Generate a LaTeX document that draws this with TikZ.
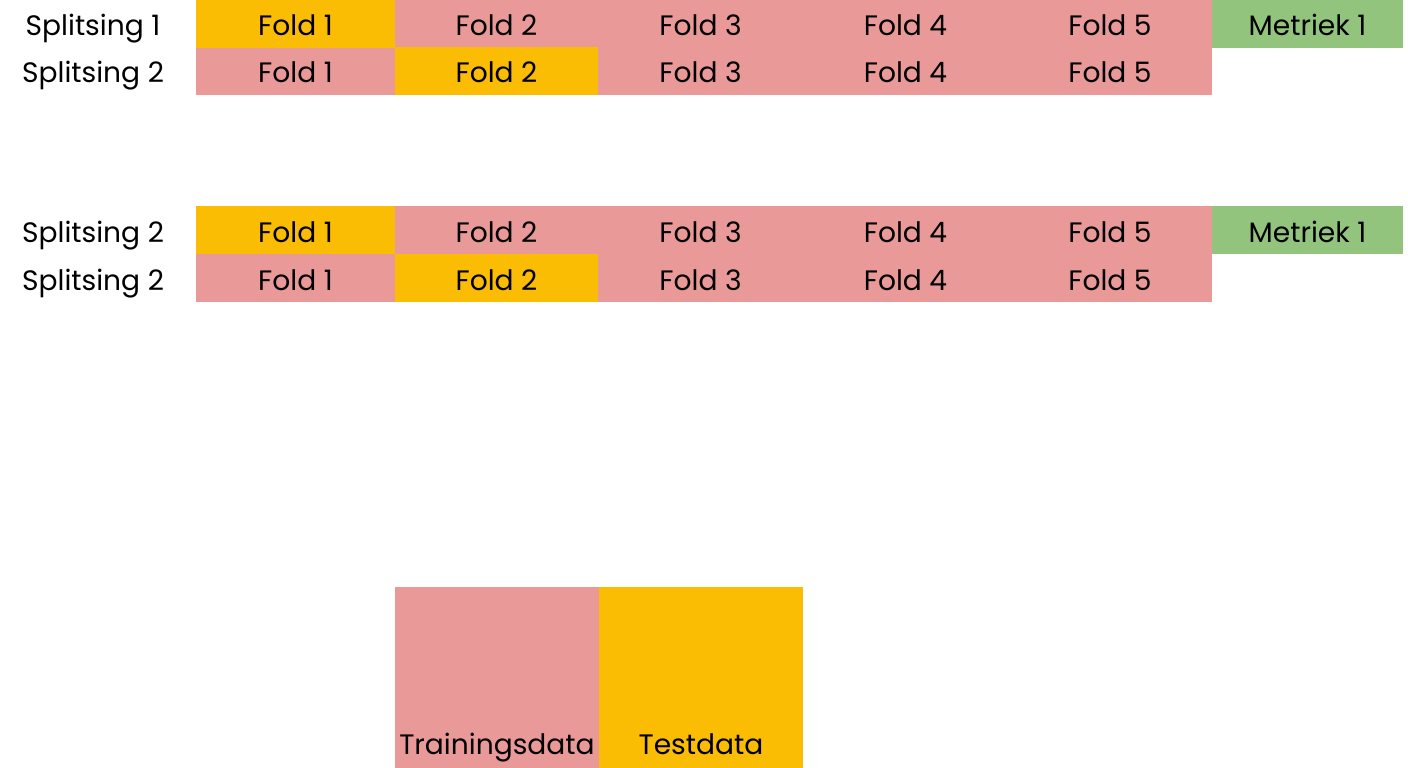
\documentclass[tikz,border=0pt]{standalone}
\usepackage{fontspec}
\setmainfont{Poppins}
\usepackage{tikz}
\usetikzlibrary{positioning}
\definecolor{foldpink}{HTML}{EA9999}
\definecolor{foldyellow}{HTML}{FBBC04}
\definecolor{metricgreen}{HTML}{93C47D}

\tikzset{
  txt/.style={inner sep=0pt, text height=0.7em, text depth=0pt,
    font=\fontsize{8}{9}\selectfont},
  cell/.style={txt, minimum height=0.48cm},
  train/.style={cell, fill=foldpink},
  test/.style={cell, fill=foldyellow},
  metric/.style={cell, fill=metricgreen, minimum width=1.91cm},
}

\begin{document}
\begin{tikzpicture}
    \useasboundingbox (0,0) rectangle (14.08,-7.68);

    % Row labels
    \node[txt] (lab1) at (0.93,-0.235) {Splitsing 1};
    \node[txt] (lab2) at (0.93,-0.705) {Splitsing 2};
    \node[txt] (lab3) at (0.93,-2.30) {Splitsing 2};
    \node[txt] (lab4) at (0.93,-2.78) {Splitsing 2};

    % Folds: first block
    \foreach \i/\x/\w in {1/2.955/1.99,2/4.965/2.03,3/7.005/2.05,4/9.055/2.05,5/11.10/2.04}{
      \node[train,minimum width=\w cm] (a\i) at (\x,-0.235) {Fold \i};
      \node[train,minimum width=\w cm] (b\i) at (\x,-0.705) {Fold \i};
    }
    \node[test,minimum width=1.99cm] (a1) at (2.955,-0.235) {Fold 1};
    \node[test,minimum width=2.03cm] (b2) at (4.965,-0.705) {Fold 2};
    \node[metric] (ma) at (13.075,-0.235) {Metriek 1};

    % Folds: second block
    \foreach \i/\x/\w in {1/2.955/1.99,2/4.965/2.03,3/7.005/2.05,4/9.055/2.05,5/11.10/2.04}{
      \node[train,minimum width=\w cm] (c\i) at (\x,-2.30) {Fold \i};
      \node[train,minimum width=\w cm] (d\i) at (\x,-2.78) {Fold \i};
    }
    \node[test,minimum width=1.99cm] (c1) at (2.955,-2.30) {Fold 1};
    \node[test,minimum width=2.03cm] (d2) at (4.965,-2.78) {Fold 2};
    \node[metric] (mc) at (13.075,-2.30) {Metriek 1};

    % Legend
    \node[train,minimum width=2.04cm,minimum height=1.81cm] (legtrain) at (4.97,-6.775) {};
    \node[test,minimum width=2.04cm,minimum height=1.81cm] (legtest) at (7.01,-6.775) {};
    \node[txt,above=0.14cm of legtrain.south] (legtraintxt) {Trainingsdata};
    \node[txt,above=0.14cm of legtest.south] (legtesttxt) {Testdata};
\end{tikzpicture}
\end{document}
